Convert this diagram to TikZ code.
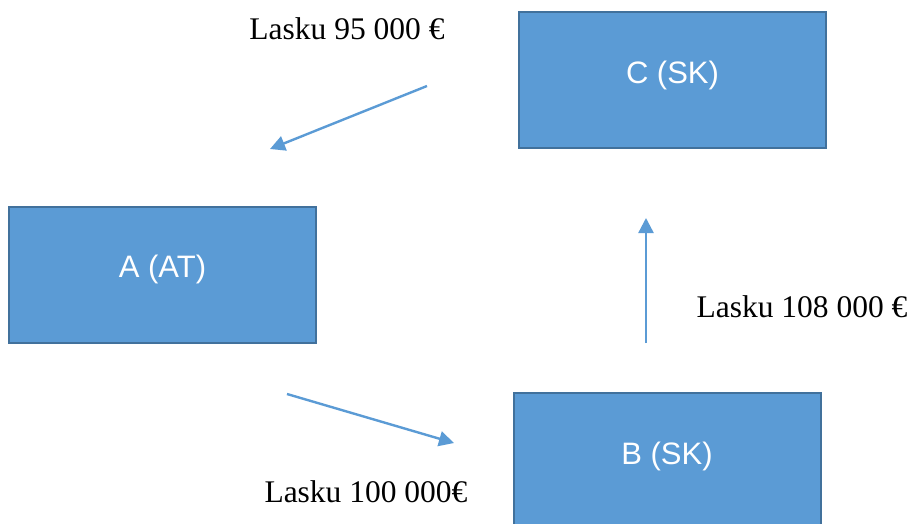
\documentclass[tikz,border=0pt]{standalone}
\usepackage{fontspec}
\setmainfont{Liberation Serif}
\newfontfamily\boxfont{Liberation Sans}
\usetikzlibrary{arrows.meta}
\definecolor{boxfill}{HTML}{5B9BD5}
\definecolor{boxline}{HTML}{41719C}
\definecolor{flow}{HTML}{5B9BD5}
\tikzset{
  party/.style={draw=boxline, fill=boxfill, line width=2pt, rectangle,
    minimum width=307pt, minimum height=136pt, inner sep=0pt,
    text=white, font=\boxfont\fontsize{31}{36}\selectfont,
    text height=22pt, text depth=16pt},
  invoice/.style={anchor=base, inner sep=0pt, font=\fontsize{31.5}{36}\selectfont},
  flowarrow/.style={draw=flow, line width=2.4pt, -{Triangle[length=15pt,width=15pt]}}
}
\begin{document}
\begin{tikzpicture}[x=1pt,y=-1pt]
  \useasboundingbox (0,0) rectangle (913,524);
  \clip (0,0) rectangle (913,524);

  % companies
  \node[party] (C) at (672.5,80.5) {C (SK)};
  \node[party] (A) at (162.5,274.5) {A (AT)};
  \node[party] (B) at (667,461) {B (SK)};

  % invoice labels
  \node[invoice] (l95)  at (347,40)  {Lasku 95 000 €};
  \node[invoice] (l108) at (802,317) {Lasku 108 000 €};
  \node[invoice] (l100) at (366,502) {Lasku 100 000€};

  % free ends of the invoice arrows
  \coordinate (c2a-s) at (427,86);
  \coordinate (c2a-e) at (270,149);
  \coordinate (a2b-s) at (287,394);
  \coordinate (a2b-e) at (454,443);
  \coordinate (b2c-s) at (646,343);
  \coordinate (b2c-e) at (646,218);

  \draw[flowarrow] (c2a-s) -- (c2a-e);
  \draw[flowarrow] (a2b-s) -- (a2b-e);
  \draw[flowarrow] (b2c-s) -- (b2c-e);
\end{tikzpicture}
\end{document}
